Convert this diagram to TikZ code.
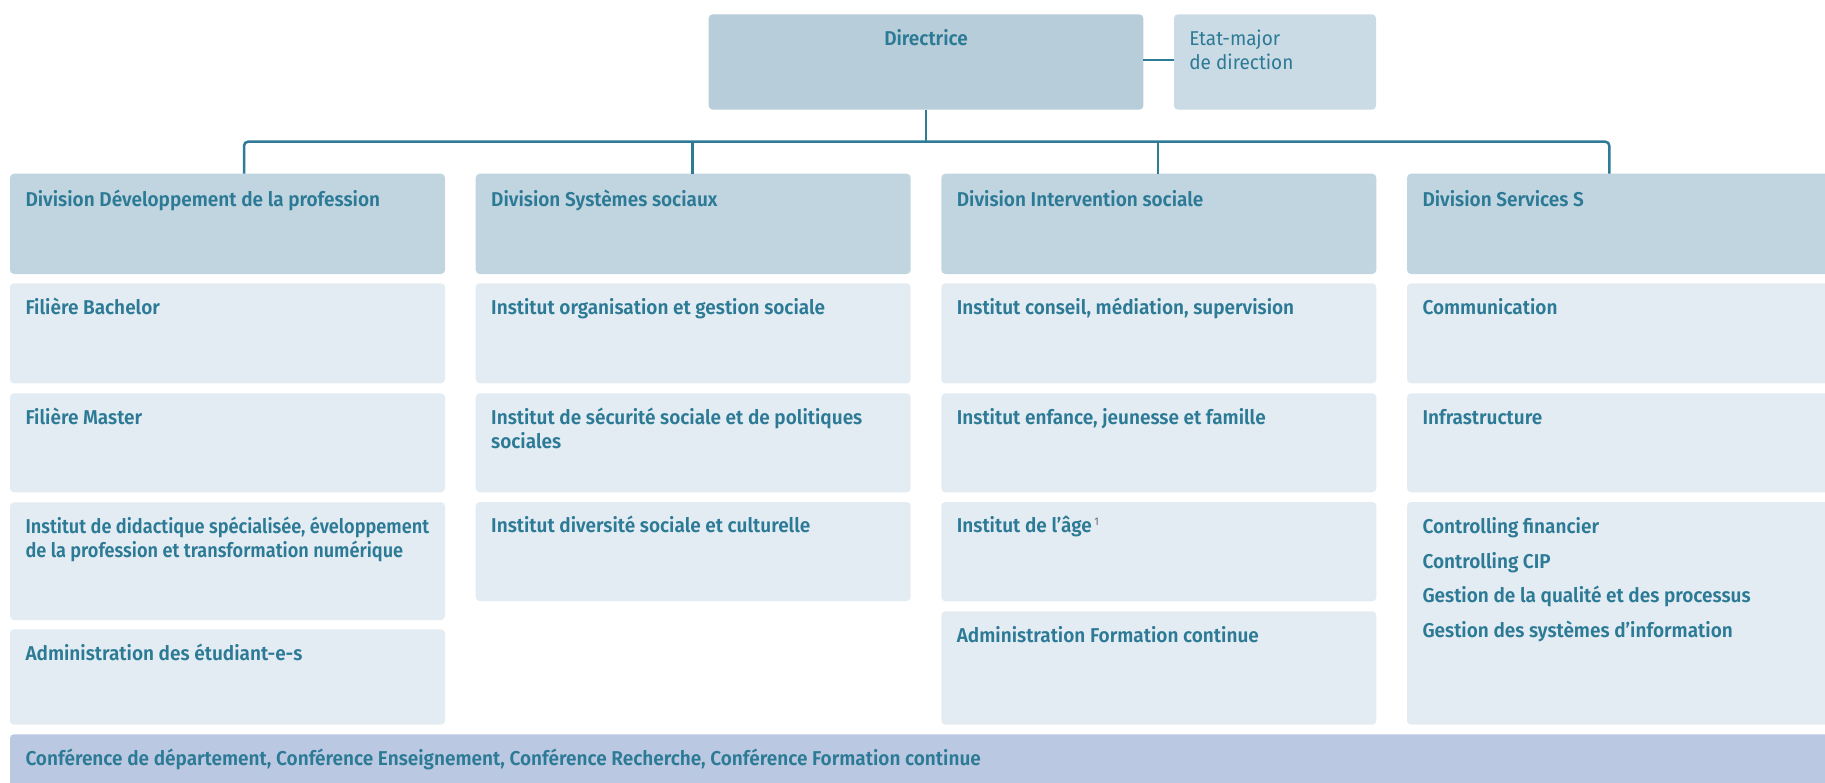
\documentclass[tikz,border=0pt]{standalone}
\usepackage{graphicx}
\usepackage{fontspec}
\IfFontExistsTF{Fira Sans SemiBold}
  {\setmainfont{Fira Sans}[BoldFont={Fira Sans SemiBold}, FakeStretch=0.95]}
  {\setmainfont{Fira Sans}[FakeStretch=0.95]}
\definecolor{txt}{HTML}{2C7A95}
\definecolor{linec}{HTML}{2E7B96}
\definecolor{dirfill}{HTML}{B7CDDA}
\definecolor{etatfill}{HTML}{CBDBE5}
\definecolor{divfill}{HTML}{C1D5E0}
\definecolor{subfill}{HTML}{E3ECF2}
\definecolor{botfill}{HTML}{BAC8E2}
\definecolor{supc}{HTML}{666666}
\newcommand\twoln[3]{\vtop{\baselineskip=#1pt\hbox{#2}\hbox{#3}}}
\begin{document}
\begin{tikzpicture}[x=1pt,y=-1pt,
  box/.style={rectangle, rounded corners=4pt, draw=none, anchor=north west, minimum width=435pt, inner sep=0pt, outer sep=0pt},
  divbox/.style={box, fill=divfill},
  subbox/.style={box, fill=subfill},
  lbl/.style={anchor=base west, inner sep=0pt, outer sep=0pt, text=txt, font=\fontsize{20}{24}\selectfont\bfseries},
  conn/.style={draw=linec, line width=2.5pt},
]
\useasboundingbox (0,0) rectangle (1825,782);
\clip (0,0) rectangle (1825,782);

% top
\node[box, fill=dirfill, minimum width=434.6pt, minimum height=95.4pt] (dir) at (708.7,14.3) {};
\node[lbl, anchor=base] (dirt) at ([yshift=-30.7pt]dir.north) {Directrice};
\node[box, fill=etatfill, minimum width=202pt, minimum height=95.4pt] (etat) at (1174,14.3) {};
\node[lbl, font=\fontsize{20}{24}\selectfont\mdseries] (etatt) at ([xshift=15.3pt,yshift=-30.7pt]etat.north west) {\twoln{24.3}{Etat-major}{de direction}};

% divisions
\node[divbox, minimum height=100.3pt] (d1) at (10,173.7) {};
\node[divbox, minimum height=100.3pt] (d2) at (475.7,173.7) {};
\node[divbox, minimum height=100.3pt] (d3) at (941.3,173.7) {};
\node[divbox, minimum height=100.3pt] (d4) at (1407,173.7) {};
\node[lbl] (d1t) at ([xshift=15.5pt,yshift=-32.3pt]d1.north west) {Division Développement de la profession};
\node[lbl] (d2t) at ([xshift=15.5pt,yshift=-32.3pt]d2.north west) {Division Systèmes sociaux};
\node[lbl] (d3t) at ([xshift=15.5pt,yshift=-32.3pt]d3.north west) {Division Intervention sociale};
\node[lbl] (d4t) at ([xshift=15.5pt,yshift=-32.3pt]d4.north west) {Division Services S};

% column 1
\node[subbox, minimum height=100pt] (a2) at (10,283.3) {};
\node[subbox, minimum height=99pt] (a3) at (10,393.3) {};
\node[subbox, minimum height=117.7pt] (a4) at (10,502.3) {};
\node[subbox, minimum height=95.4pt] (a5) at (10,629.3) {};
\node[lbl] (a2t) at ([xshift=15.5pt,yshift=-30.8pt]a2.north west) {Filière Bachelor};
\node[lbl] (a3t) at ([xshift=15.5pt,yshift=-30.8pt]a3.north west) {Filière Master};
\node[lbl] (a4t) at ([xshift=15.5pt,yshift=-30.8pt]a4.north west) {\scalebox{0.955}[1]{\twoln{24}{Institut de didactique spécialisée, éveloppement}{de la profession et transformation numérique}}};
\node[lbl] (a5t) at ([xshift=15.5pt,yshift=-30.8pt]a5.north west) {Administration des étudiant-e-s};

% column 2
\node[subbox, minimum height=100pt] (b2) at (475.7,283.3) {};
\node[subbox, minimum height=99pt] (b3) at (475.7,393.3) {};
\node[subbox, minimum height=99pt] (b4) at (475.7,502) {};
\node[lbl] (b2t) at ([xshift=15.5pt,yshift=-30.8pt]b2.north west) {Institut organisation et gestion sociale};
\node[lbl] (b3t) at ([xshift=15.5pt,yshift=-30.8pt]b3.north west) {\twoln{24}{Institut de sécurité sociale et de politiques}{sociales}};
\node[lbl] (b4t) at ([xshift=15.5pt,yshift=-30.8pt]b4.north west) {Institut diversité sociale et culturelle};

% column 3
\node[subbox, minimum height=100pt] (c2) at (941.3,283.3) {};
\node[subbox, minimum height=99pt] (c3) at (941.3,393.3) {};
\node[subbox, minimum height=99.3pt] (c4) at (941.3,502) {};
\node[subbox, minimum height=113.4pt] (c5) at (941.3,611.3) {};
\node[lbl] (c2t) at ([xshift=15.5pt,yshift=-30.8pt]c2.north west) {Institut conseil, médiation, supervision};
\node[lbl] (c3t) at ([xshift=15.5pt,yshift=-30.8pt]c3.north west) {Institut enfance, jeunesse et famille};
\node[lbl] (c4t) at ([xshift=15.5pt,yshift=-30.8pt]c4.north west) {Institut de l’âge\kern2.5pt\raisebox{7pt}{\fontsize{11}{12}\selectfont\mdseries\color{supc}1}};
\node[lbl] (c5t) at ([xshift=15.5pt,yshift=-30.8pt]c5.north west) {Administration Formation continue};

% column 4
\node[subbox, minimum height=100pt] (e2) at (1407,283.3) {};
\node[subbox, minimum height=99pt] (e3) at (1407,393.3) {};
\node[subbox, minimum height=222.7pt] (e4) at (1407,502) {};
\node[lbl] (e2t) at ([xshift=15.5pt,yshift=-30.8pt]e2.north west) {Communication};
\node[lbl] (e3t) at ([xshift=15.5pt,yshift=-30.8pt]e3.north west) {Infrastructure};
\node[lbl] (e4t) at ([xshift=15.5pt,yshift=-31.5pt]e4.north west) {\vtop{\baselineskip=34.6pt\hbox{Controlling financier}\hbox{Controlling CIP}\hbox{Gestion de la qualité et des processus}\hbox{Gestion des systèmes d’information}}};

% bottom
\node[box, fill=botfill, minimum width=1900pt, minimum height=80pt] (bot) at (10,734.3) {};
\node[lbl] (bott) at ([xshift=15.5pt,yshift=-31pt]bot.north west) {Conférence de département, Conférence Enseignement, Conférence Recherche, Conférence Formation continue};

% connectors
\coordinate (bus) at (926,141.7);
\draw[conn] ([yshift=2pt]dir.east) -- ([yshift=2pt]dir.east -| etat.west);
\draw[conn] (dir.south) -- (dir.south |- bus);
\draw[conn, rounded corners=4pt] ([xshift=16.5pt]d1.north) |- (bus) -| ([xshift=-15.2pt]d4.north);
\draw[conn] ([xshift=-0.9pt]d2.north) -- ([xshift=-0.9pt]d2.north |- bus);
\draw[conn] ([xshift=-0.8pt]d3.north) -- ([xshift=-0.8pt]d3.north |- bus);
\end{tikzpicture}
\end{document}
